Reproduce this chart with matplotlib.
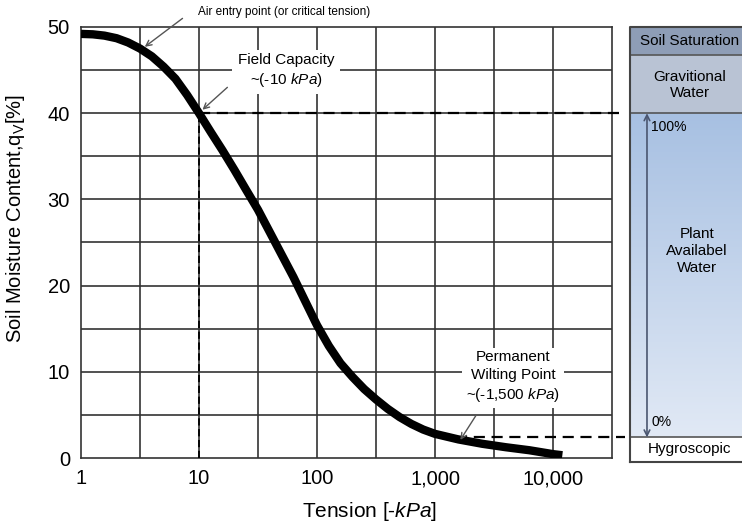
import numpy as np
import matplotlib
matplotlib.use('Agg')
import matplotlib.pyplot as plt

plt.rcParams['font.family'] = ['Liberation Sans', 'DejaVu Sans']
plt.rcParams['mathtext.fontset'] = 'custom'
plt.rcParams['mathtext.rm'] = 'Liberation Sans'
plt.rcParams['mathtext.it'] = 'Liberation Sans:italic'

# retention curve
tension = [1, 1.26, 1.58, 2, 2.51, 3.16, 3.98, 5.01, 6.31, 7.94, 10, 12.6, 15.8, 20, 25.1, 31.6,
           39.8, 50.1, 63.1, 79.4, 100, 126, 158, 200, 251, 316, 398, 501, 631, 794, 1000, 1585,
           2512, 3981, 6310, 10000, 12000]
moisture = [49.2, 49.15, 49.0, 48.7, 48.2, 47.5, 46.6, 45.4, 44.0, 42.1, 40.0, 37.8, 35.7, 33.4,
            31.1, 28.8, 26.2, 23.6, 21.0, 18.2, 15.4, 13.0, 11.0, 9.4, 8.0, 6.8, 5.7, 4.75, 3.95,
            3.3, 2.8, 2.15, 1.65, 1.25, 0.9, 0.45, 0.32]

field_capacity = (10, 40)
wilting_point = (1500, 2.4)

xticks = [1, 10, 100, 1000, 10000]
xticklabels = ['1', '10', '100', '1,000', '10,000']
yticks = [0, 10, 20, 30, 40, 50]

# right hand panel bands (moisture limits)
saturation_band = (46.7, 50)
gravitational_band = (40, 46.7)
available_band = (2.4, 40)
hygro_band = (-0.45, 2.4)

W, H = 742, 527
fig = plt.figure(figsize=(W / 100, H / 100), dpi=100)
ax = fig.add_axes([81 / W, (H - 458) / H, (612 - 81) / W, (458 - 27) / H])

ax.set_xscale('log')
ax.set_xlim(1, 10 ** 4.5)
ax.set_ylim(0, 50)

gx = 10 ** np.arange(0, 4.51, 0.5)
for v in gx[1:-1]:
    ax.axvline(v, color='#333333', lw=1.2, zorder=1)
for v in range(5, 50, 5):
    ax.axhline(v, color='#333333', lw=1.2, zorder=1)
for s in ax.spines.values():
    s.set_color('#333333')
    s.set_linewidth(1.2)

ax.set_xticks(xticks)
ax.set_xticklabels(xticklabels)
ax.xaxis.set_minor_locator(matplotlib.ticker.NullLocator())
ax.set_yticks(yticks)
ax.tick_params(length=0, labelsize=14.5, pad=8)

ax.plot(tension, moisture, color='black', lw=6, solid_capstyle='butt', solid_joinstyle='round',
        zorder=4)

# dashed guide lines
xpanel = 10 ** ((627 - 81) / 118.5)
ax.plot([field_capacity[0], field_capacity[0]], [0, field_capacity[1]], ls='--', color='black', lw=1.3,
        dashes=(4, 2), zorder=3)
ax.plot([field_capacity[0], xpanel], [field_capacity[1]] * 2, ls='--', color='black', lw=1.6,
        dashes=(5, 3), zorder=3, clip_on=False)
ax.plot([wilting_point[0], xpanel], [wilting_point[1]] * 2, ls='--', color='black', lw=1.6,
        dashes=(5, 3), zorder=3, clip_on=False)

ax.set_xlabel('Tension [-$\\mathit{kPa}$]', fontsize=15, va='center')
ax.xaxis.set_label_coords(0.544, -0.125)
ax.set_ylabel('Soil Moisture Content,q$_\\mathregular{V}$[%]', fontsize=14.5, va='center')
ax.yaxis.set_label_coords(-0.124, 0.555)

arrow = dict(arrowstyle='->', color='#555555', lw=1.0, shrinkA=0, shrinkB=0)
ax.text(52.7, 51.75, 'Air entry point (or critical tension)', fontsize=8.5, ha='center', va='center',
        clip_on=False)
ax.annotate('', xy=(3.47, 47.7), xytext=(7.25, 51.0), arrowprops=arrow, annotation_clip=False)

ax.text(54.7, 44.9, 'Field Capacity\n~(-10 $\\mathit{kPa}$)', fontsize=11, ha='center', va='center',
        linespacing=1.3, zorder=5, bbox=dict(facecolor='white', edgecolor='none', pad=4))
ax.annotate('', xy=(10.7, 40.4), xytext=(17.4, 43.0), arrowprops=arrow, zorder=6)

ax.text(4590, 9.4, 'Permanent\nWilting Point\n~(-1,500 $\\mathit{kPa}$)', fontsize=11, ha='center',
        va='center', linespacing=1.33, zorder=5, bbox=dict(facecolor='white', edgecolor='none', pad=3))
ax.annotate('', xy=(1640, 2.1), xytext=(2240, 5.0), arrowprops=arrow, zorder=6)

# side panel
px = fig.add_axes([630 / W, (H - 462) / H, 124 / W, (462 - 27) / H])
px.axis('off')

px.axhspan(*saturation_band, color='#8e9db6', zorder=1)
px.axhspan(*gravitational_band, color='#b9c3d4', zorder=1)
grad = np.linspace(0, 1, 256).reshape(-1, 1)
cmap = matplotlib.colors.LinearSegmentedColormap.from_list('paw', ['#e1e9f5', '#a7c0e2'])
px.imshow(grad, extent=[0, 1, available_band[0], available_band[1]], origin='lower', cmap=cmap,
          aspect='auto', zorder=1)
px.axhspan(*hygro_band, color='white', zorder=1)
px.set_xlim(0, 1)
px.set_ylim(hygro_band[0], 50)
for y in [saturation_band[0], gravitational_band[0], available_band[0]]:
    px.axhline(y, color='#555555', lw=1.2, zorder=2)
px.plot([0, 0, 1, 1, 0], [hygro_band[0], 50, 50, hygro_band[0], hygro_band[0]], color='#444444',
        lw=1.5, zorder=3, clip_on=False)

px.text(0.48, 48.35, 'Soil Saturation', fontsize=11, ha='center', va='center')
px.text(0.48, 43.3, 'Gravitional\nWater', fontsize=11, ha='center', va='center', linespacing=1.2)
px.text(0.54, 24.0, 'Plant\nAvailabel\nWater', fontsize=11, ha='center', va='center', linespacing=1.3)
px.text(0.48, 1.1, 'Hygroscopic', fontsize=11, ha='center', va='center')
px.annotate('', xy=(0.137, available_band[0]), xytext=(0.137, available_band[1]),
            arrowprops=dict(arrowstyle='<->', color='#4a5670', lw=1.2, shrinkA=0, shrinkB=0))
px.text(0.17, 38.4, '100%', fontsize=10, ha='left', va='center')
px.text(0.17, 4.2, '0%', fontsize=10, ha='left', va='center')

fig.savefig('out.png', dpi=100)
